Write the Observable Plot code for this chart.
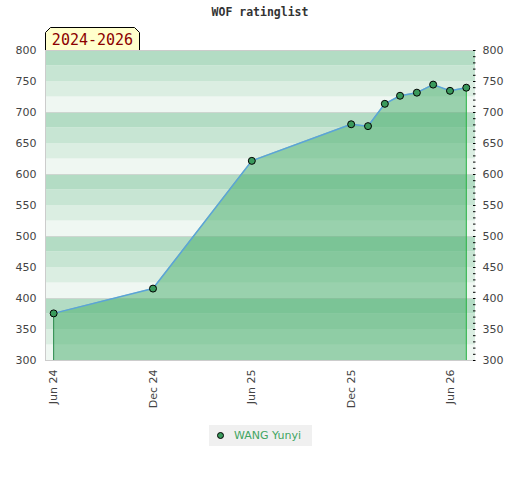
<!DOCTYPE html>
<html>
<head>
<meta charset="utf-8">
<script src="https://cdn.jsdelivr.net/npm/d3@7"></script>
<script src="https://cdn.jsdelivr.net/npm/@observablehq/plot@0.6"></script>
<style>
  body { margin: 0; background: #fff; }
  #wrap { position: relative; width: 520px; height: 480px; }
  #title { position: absolute; left: 0; top: 5px; width: 520px; text-align: center;
    font: bold 11.5px "DejaVu Sans Mono", monospace; color: #333; }
  #period { position: absolute; left: 45px; top: 27px; width: 95px; height: 23px; }
  #legend { position: absolute; left: 209px; top: 425px; width: 103px; height: 21px;
    background: #f0f0f0; font: 11px "DejaVu Sans", sans-serif; color: #3fa562; }
  #legend .dot { position: absolute; left: 8px; top: 7px; width: 5px; height: 5px;
    border: 1px solid #000; border-radius: 50%; background: #3a9a5c; }
  #legend .lbl { position: absolute; left: 25px; top: 4px; white-space: nowrap; }
  #chart { position: absolute; left: 0; top: 0; }
</style>
</head>
<body>
<div id="wrap">
  <div id="chart"></div>
  <div id="title">WOF ratinglist</div>
  <svg id="period" viewBox="0 0 95 23" width="95" height="23">
    <path d="M0.5,23 L0.5,5.5 L5.5,0.5 L89.5,0.5 L94.5,5.5 L94.5,23" fill="#ffffcc" stroke="#000" stroke-width="1"/>
    <text x="47.5" y="18" text-anchor="middle" fill="#8b0000" font-family="DejaVu Sans Mono, monospace" font-size="15">2024-2026</text>
  </svg>
  <div id="legend"><div class="dot"></div><div class="lbl">WANG Yunyi</div></div>
</div>
<script>
const playerName = "WANG Yunyi";
const dates = ["2024-06-01","2024-12-01","2025-06-01","2025-12-01","2026-01-01","2026-02-01","2026-03-01","2026-04-01","2026-05-01","2026-06-01","2026-07-01"];
const ratings = [376, 416, 622, 681, 678, 714, 727, 732, 745, 735, 740];
const xTickDates = ["2024-06-01","2024-12-01","2025-06-01","2025-12-01","2026-06-01"];
const xDomain = ["2024-05-17","2026-07-18"];
const yDomain = [300, 800];
const yTickLabels = [300, 350, 400, 450, 500, 550, 600, 650, 700, 750, 800];
const yMinorTicks = d3.range(300, 801, 10);
const bandShades = ["#b3dcc4", "#c7e5d3", "#dbeee2", "#eff7f2"]; // top to bottom within each 100
const bandStep = 25;
const hundredLines = [400, 500, 600, 700];

const parse = d3.utcParse("%Y-%m-%d");
const data = dates.map((d, i) => ({date: parse(d), rating: ratings[i]}));
const ends = [data[0], data[data.length - 1]];
const bands = d3.range(yDomain[0], yDomain[1], bandStep).map(lo => ({
  lo, hi: lo + bandStep,
  shade: bandShades[3 - Math.floor((lo % 100) / bandStep)]
}));
const yBase = yDomain[0];

const chart = Plot.plot({
  width: 520,
  height: 420,
  marginTop: 50,
  marginBottom: 60,
  marginLeft: 45,
  marginRight: 45,
  style: {fontFamily: "DejaVu Sans, sans-serif", fontSize: "11px", background: "transparent"},
  x: {type: "utc", domain: xDomain.map(parse)},
  y: {domain: yDomain},
  color: {type: "identity"},
  marks: [
    Plot.barY(bands, {y1: "lo", y2: "hi", fill: "shade"}),
    Plot.ruleY(hundredLines, {stroke: "#cdd6d0", strokeWidth: 1}),
    Plot.areaY(data, {x: "date", y1: yBase, y2: "rating", fill: "#43ac68", fillOpacity: 0.5}),
    Plot.ruleX(ends.slice(0,1), {x: "date", y1: yBase, y2: "rating", stroke: "#2e8b4f", strokeWidth: 1}),
    Plot.ruleX(ends.slice(1), {x: "date", y1: yBase, y2: "rating", stroke: "#2db34a", strokeWidth: 1.2}),
    Plot.lineY(data, {x: "date", y: "rating", stroke: "#5ba3d9", strokeWidth: 1.5}),
    Plot.dot(data, {x: "date", y: "rating", r: 3.5, fill: "#3a9a5c", stroke: "#000", strokeWidth: 1}),
    Plot.ruleY([yDomain[0], yDomain[1]], {stroke: "#cccccc"}),
    Plot.ruleX([parse(xDomain[0])], {stroke: "#cccccc"}),
    Plot.axisY(yTickLabels, {anchor: "left", tickSize: 0, tickPadding: 9, fill: "#444", label: null}),
    Plot.axisY(yTickLabels, {anchor: "right", tickSize: 0, tickPadding: 7, fill: "#444", label: null}),
    Plot.axisY(yMinorTicks, {anchor: "right", tickSize: 2.5, dx: -3, tickFormat: () => "", stroke: "#000", label: null}),
    Plot.axisX(xTickDates.map(parse), {anchor: "bottom", tickSize: 0, tickPadding: 9, tickRotate: -90,
      tickFormat: d3.utcFormat("%b %y"), fill: "#444", label: null})
  ]
});
document.getElementById("chart").appendChild(chart);
</script>
</body>
</html>
